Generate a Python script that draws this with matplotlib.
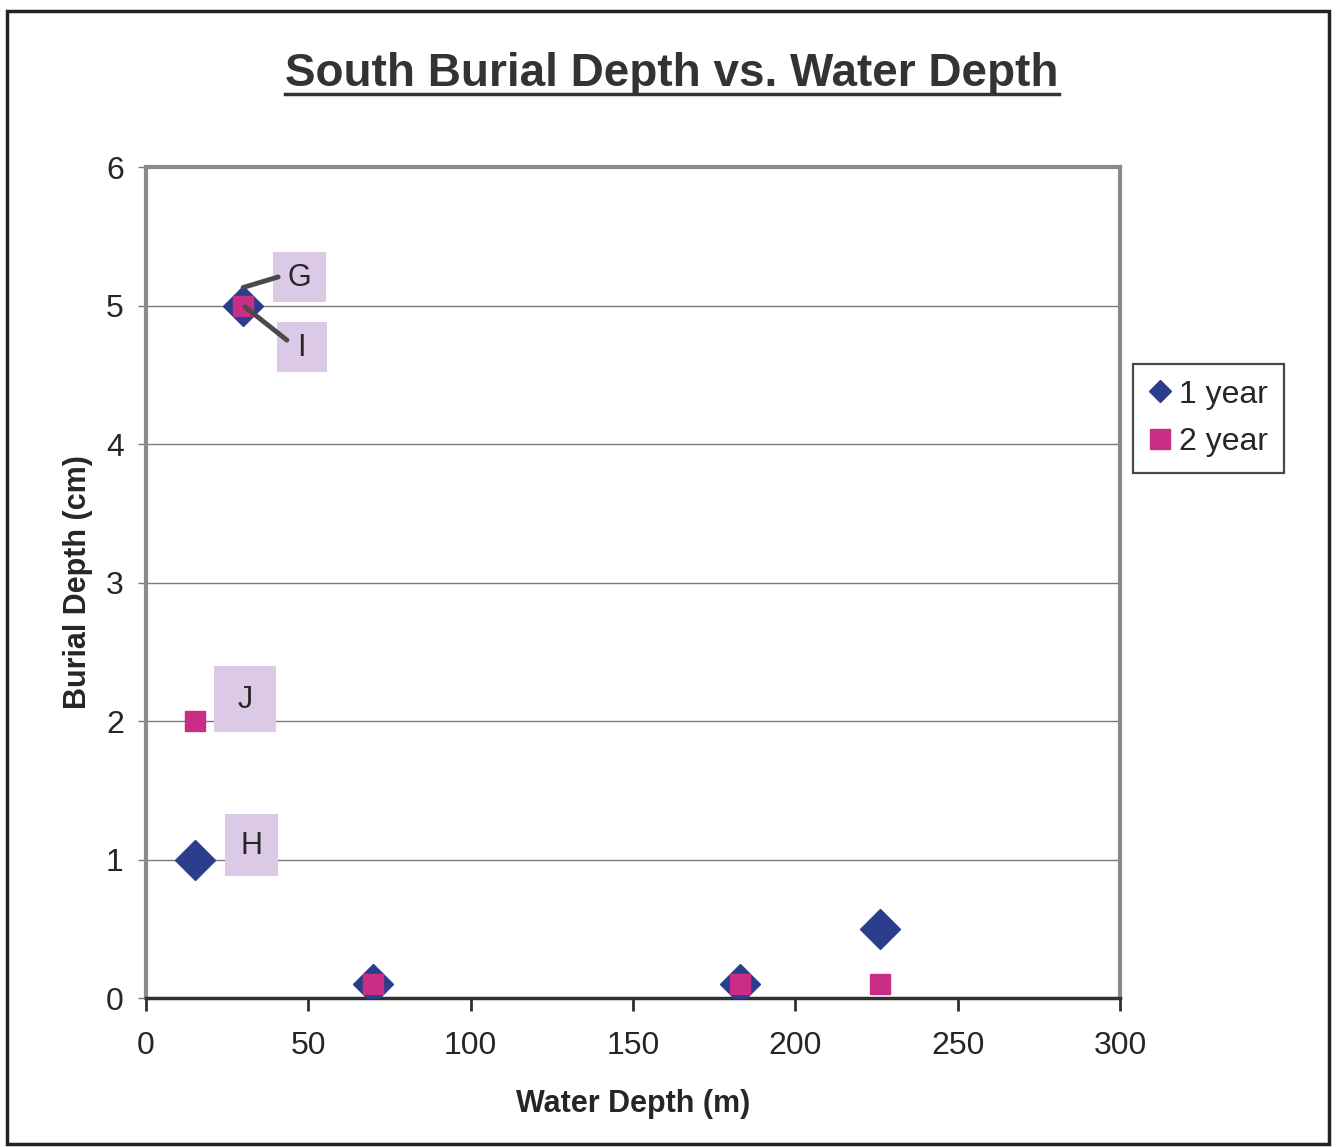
import matplotlib
matplotlib.use("Agg")
import matplotlib.pyplot as plt
from matplotlib.lines import Line2D
from matplotlib.patches import Rectangle

plt.rcParams['font.family'] = ['Liberation Sans', 'DejaVu Sans']

# Water depth (m) and burial depth (cm) for each deployment period
depth_1yr = [15, 30, 70, 183, 226]
burial_1yr = [1, 5, 0.1, 0.1, 0.5]
depth_2yr = [15, 30, 70, 183, 226]
burial_2yr = [2, 5, 0.1, 0.1, 0.1]

# Site label boxes: name, box centre, box size (data units)
label_names = ["G", "I", "J", "H"]
label_centres = [(47.3, 5.205), (48.0, 4.70), (30.5, 2.16), (32.5, 1.105)]
label_sizes = [(16.3, 0.361), (15.4, 0.361), (19.1, 0.477), (16.4, 0.448)]

# Leader lines from label boxes G and I to their shared point
leaders = [((40.7, 5.206), (29.9, 5.13)),
           ((43.4, 4.75), (30.5, 4.99))]

x_ticks = [0, 50, 100, 150, 200, 250, 300]
y_ticks = [0, 1, 2, 3, 4, 5, 6]

NAVY = '#2B3E8C'
MAGENTA = '#C92D86'
LILAC = '#DCC9E6'
TXT = '#262626'

fig = plt.figure(figsize=(13.36, 11.47), dpi=100)
ax = fig.add_axes([0.1093, 0.1299, 0.729, 0.7245])

ax.set_xlim(0, 300)
ax.set_ylim(0, 6)
ax.set_xticks(x_ticks)
ax.set_yticks(y_ticks)

ax.yaxis.grid(True, color='#7a7a7a', lw=1.0)
ax.set_axisbelow(True)

ax.plot(depth_1yr, burial_1yr, ls='none', marker='D', ms=20, color=NAVY,
        mec=NAVY, zorder=3)
ax.plot(depth_2yr, burial_2yr, ls='none', marker='s', ms=14.5, color=MAGENTA,
        mec=MAGENTA, zorder=4)

for name, (cx, cy), (w, h) in zip(label_names, label_centres, label_sizes):
    ax.add_patch(Rectangle((cx - w / 2, cy - h / 2), w, h, fc=LILAC,
                           ec='none', zorder=5))
    ax.text(cx, cy - 0.01, name, ha='center', va='center', fontsize=22,
            color=TXT, zorder=6)

for start, end in leaders:
    ax.annotate('', xy=end, xytext=start,
                arrowprops=dict(arrowstyle='-', color='#4a4a4a', lw=3.5,
                                shrinkA=0, shrinkB=0),
                zorder=7)

for side in ('left', 'top', 'right'):
    ax.spines[side].set_color('#8a8a8a')
    ax.spines[side].set_linewidth(3)
ax.spines['bottom'].set_color('#303030')
ax.spines['bottom'].set_linewidth(2.5)
ax.spines['bottom'].set_zorder(2.5)

ax.tick_params(axis='x', direction='out', length=9, width=2, color='#303030',
               labelsize=23, labelcolor=TXT, pad=15)
ax.tick_params(axis='y', direction='out', length=6, width=1, color='#7a7a7a',
               labelsize=23, labelcolor=TXT, pad=10)

ax.set_xlabel('Water Depth (m)', fontsize=22, fontweight='bold', color=TXT,
              labelpad=20)
ax.set_ylabel('Burial Depth (cm)', fontsize=22, fontweight='bold', color=TXT,
              labelpad=9)

# Title with underline
title = fig.text(0.503, 0.925, 'South Burial Depth vs. Water Depth',
                 ha='center', va='baseline', fontsize=33, fontweight='bold',
                 color='#333333')
fig.canvas.draw()
bb = title.get_window_extent().transformed(fig.transFigure.inverted())
fig.add_artist(Line2D([bb.x0, bb.x1], [0.918, 0.918], color='#333333',
                      lw=2.5, transform=fig.transFigure))

handles = [
    Line2D([], [], ls='none', marker='D', ms=11, color=NAVY, mec=NAVY),
    Line2D([], [], ls='none', marker='s', ms=14, color=MAGENTA, mec=MAGENTA),
]
leg = fig.legend(handles, ['1 year', '2 year'], loc='upper left',
                 bbox_to_anchor=(0.848, 0.683), fontsize=23, frameon=True,
                 fancybox=False, edgecolor='#1a1a1a', handlelength=0.7,
                 handletextpad=0.25, borderpad=0.5, labelspacing=0.55,
                 borderaxespad=0)
leg.get_frame().set_linewidth(1.6)
for t in leg.get_texts():
    t.set_color(TXT)

# Outer chart frame
fig.add_artist(Rectangle((0.0055, 0.003), 0.9895, 0.9875,
                         transform=fig.transFigure, fill=False,
                         ec='#222222', lw=2.5))

fig.savefig('out.png', dpi=100)
